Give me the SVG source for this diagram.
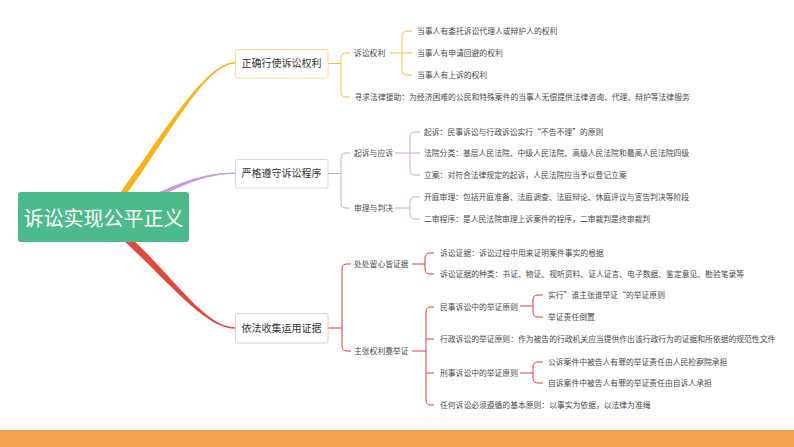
<svg xmlns="http://www.w3.org/2000/svg" width="794" height="447" viewBox="0 0 794 447">
<style>
.t{font-family:"Noto Sans CJK SC","Noto Sans",sans-serif;font-size:7.8px;fill:#4a4a4a}
.n{font-family:"Noto Sans CJK SC","Noto Sans",sans-serif;font-size:10px;fill:#333;text-anchor:middle}
.r{font-family:"Noto Sans CJK SC","Noto Sans",sans-serif;font-size:20px;fill:#fff;text-anchor:middle}
.by{fill:none;stroke:#f2c443;stroke-width:1}
.bp{fill:none;stroke:#c9a6e2;stroke-width:1}
.br{fill:none;stroke:#d2403f;stroke-width:1}
.box{fill:#fff;stroke-width:1}
</style>
<rect x="0" y="0" width="794" height="447" fill="#fff"/>
<g id="connectors">
<path d="M120.6,192.2 C162.6,135.2 205,62.25 235,62.25 L235,63.75 C205,63.75 167.4,138.8 125.4,195.8 Z" fill="#f5b417"/>
<path d="M154.2,194.2 C184.2,181.2 205,172.5 235,172.5 L235,174 C205,174 185.8,184.8 155.8,197.8 Z" fill="#c89be0"/>
<path d="M128.4,235.4 C174.4,277.4 205,327.25 235,327.25 L235,328.75 C205,328.75 169.6,282.6 123.6,240.6 Z" fill="#e0493e"/>
<path class="by" d="M328,63.5 H341 M350,53 H346 Q341,53 341,58 V92 Q341,97 346,97 H350"/>
<path class="by" d="M390,53 H412 M412,31 H407 Q402,31 402,36 V70 Q402,75 407,75 H412"/>
<path class="bp" d="M328,173.5 H341 M350,153 H346 Q341,153 341,158 V203 Q341,208 346,208 H350"/>
<path class="bp" d="M395,153 H420 M420,132 H415 Q410,132 410,137 V170 Q410,175 415,175 H420"/>
<path class="bp" d="M395,208 H410 M420,197 H415 Q410,197 410,202 V214 Q410,219 415,219 H420"/>
<path class="br" d="M328,328 H342 M351,264 H347 Q342,264 342,269 V346 Q342,351 347,351 H351"/>
<path class="br" d="M412,264 H425 M434,253 H430 Q425,253 425,258 V269 Q425,274 430,274 H434"/>
<path class="br" d="M412,351 H426 M434,307 H431 Q426,307 426,312 V400 Q426,405 431,405 H434 M426,339 H434 M426,373 H434"/>
<path class="br" d="M520,306 H533 M543,295 H538 Q533,295 533,300 V312 Q533,317 538,317 H543"/>
<path class="br" d="M520,373 H533 M543,362 H538 Q533,362 533,367 V378 Q533,383 538,383 H543"/>
</g>
<g id="root">
<rect x="18" y="192" width="171" height="50" rx="3" fill="#4cba8a"/>
<text class="r" x="103.5" y="226">诉讼实现公平正义</text>
</g>
<g id="node-rights">
<rect class="box" x="235.5" y="49.5" width="92.5" height="28.5" rx="2" stroke="#f5dc9c"/>
<text class="n" x="281.5" y="67.3">正确行使诉讼权利</text>
</g>
<g id="node-procedure">
<rect class="box" x="235.5" y="159.5" width="92.5" height="28.5" rx="2" stroke="#dcd5e3"/>
<text class="n" x="281.5" y="177.3">严格遵守诉讼程序</text>
</g>
<g id="node-evidence">
<rect class="box" x="235.5" y="313.5" width="92.5" height="29.5" rx="2" stroke="#ebcaca"/>
<text class="n" x="281.5" y="331.8">依法收集运用证据</text>
</g>
<g id="n-rights-sub">
<text class="t" x="354" y="55.8">诉讼权利</text>
<text class="t" x="354.5" y="99.8">寻求法律援助：为经济困难的公民和特殊案件的当事人无偿提供法律咨询、代理、辩护等法律服务</text>
</g>
<g id="n-rights-leaf">
<text class="t" x="417" y="33.8">当事人有委托诉讼代理人或辩护人的权利</text>
<text class="t" x="417" y="55.8">当事人有申请回避的权利</text>
<text class="t" x="417" y="77.8">当事人有上诉的权利</text>
</g>
<g id="n-proc-sub">
<text class="t" x="354" y="155.8">起诉与应诉</text>
<text class="t" x="354" y="210.8">审理与判决</text>
</g>
<g id="n-proc-leaf">
<text class="t" x="424" y="134.8">起诉：民事诉讼与行政诉讼实行“不告不理”的原则</text>
<text class="t" x="424" y="155.8">法院分类：基层人民法院、中级人民法院、高级人民法院和最高人民法院四级</text>
<text class="t" x="424" y="177.8">立案：对符合法律规定的起诉，人民法院应当予以登记立案</text>
<text class="t" x="424" y="199.8">开庭审理：包括开庭准备、法庭调查、法庭辩论、休庭评议与宣告判决等阶段</text>
<text class="t" x="424" y="221.8">二审程序：是人民法院审理上诉案件的程序，二审裁判是终审裁判</text>
</g>
<g id="n-evid-sub">
<text class="t" x="354" y="266.8">处处留心皆证据</text>
<text class="t" x="354" y="353.8">主张权利靠举证</text>
</g>
<g id="n-evid-leaf">
<text class="t" x="440" y="255.8">诉讼证据：诉讼过程中用来证明案件事实的根据</text>
<text class="t" x="440" y="276.8">诉讼证据的种类：书证、物证、视听资料、证人证言、电子数据、鉴定意见、勘验笔录等</text>
<text class="t" x="440" y="309.8">民事诉讼中的举证原则</text>
<text class="t" x="440" y="341.8">行政诉讼的举证原则：作为被告的行政机关应当提供作出该行政行为的证据和所依据的规范性文件</text>
<text class="t" x="440" y="375.8">刑事诉讼中的举证原则</text>
<text class="t" x="440" y="407.8">任何诉讼必须遵循的基本原则：以事实为依据，以法律为准绳</text>
</g>
<g id="n-evid-leaf2">
<text class="t" x="548" y="297.8">实行”谁主张谁举证“的举证原则</text>
<text class="t" x="548" y="319.8">举证责任倒置</text>
<text class="t" x="548" y="364.8">公诉案件中被告人有罪的举证责任由人民检察院承担</text>
<text class="t" x="548" y="385.8">自诉案件中被告人有罪的举证责任由自诉人承担</text>
</g>
<rect x="0" y="430" width="794" height="17" fill="#f1a24b"/>
</svg>
